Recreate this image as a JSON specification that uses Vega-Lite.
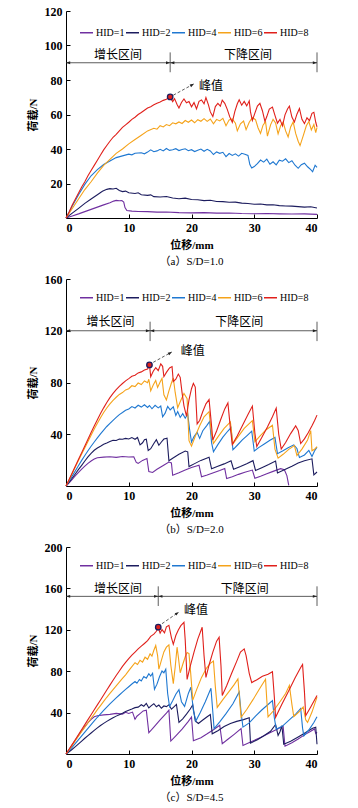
{
"$schema": "https://vega.github.io/schema/vega-lite/v6.json",
"background": "white",
"padding": {"left": 27, "top": 5, "right": 5, "bottom": 0},
"spacing": 6,
"resolve": {"scale": {"color": "independent"}},
"config": {
 "view": {"stroke": null},
 "font": "Liberation Serif, Noto Sans CJK SC",
 "axis": {"grid": false, "domainColor": "#000", "domainWidth": 1, "tickColor": "#000", "tickSize": -4, "tickWidth": 1, "labelColor": "#000", "labelFont": "Liberation Serif", "labelFontSize": 12, "labelFontWeight": "bold", "labelPadding": 8, "titleColor": "#000", "titleFont": "Liberation Serif, Noto Sans CJK SC", "titleFontSize": 11, "titleFontWeight": "bold", "titlePadding": 6},
 "legend": {"orient": "none", "direction": "horizontal", "columns": 5, "symbolType": "stroke", "symbolSize": 170, "symbolStrokeWidth": 1.5, "labelFont": "Liberation Serif", "labelFontSize": 10, "labelColor": "#000", "labelOffset": 2, "columnPadding": -3, "padding": 0, "title": null},
 "title": {"fontSize": 11, "fontWeight": "normal", "font": "Liberation Serif, Noto Sans CJK SC", "orient": "bottom", "offset": 6, "color": "#000"}
},
"datasets": {
"a": [
{"h":1,"x":0,"y":0},{"h":1,"x":1,"y":1.2},{"h":1,"x":2,"y":2.4},{"h":1,"x":3,"y":3.7},{"h":1,"x":4,"y":5},{"h":1,"x":5,"y":6.3},{"h":1,"x":6,"y":7.6},{"h":1,"x":7,"y":8.9},{"h":1,"x":7.6,"y":9.8},{"h":1,"x":8,"y":10.2},{"h":1,"x":8.5,"y":10},{"h":1,"x":8.9,"y":10.1},{"h":1,"x":9.2,"y":9.2},{"h":1,"x":9.4,"y":6},{"h":1,"x":9.7,"y":4.3},{"h":1,"x":10.5,"y":4},{"h":1,"x":11.5,"y":3.8},{"h":1,"x":13,"y":3.7},{"h":1,"x":14.5,"y":3.4},{"h":1,"x":16,"y":3.5},{"h":1,"x":18,"y":3.1},{"h":1,"x":20,"y":3},{"h":1,"x":22,"y":3.1},{"h":1,"x":24,"y":2.8},{"h":1,"x":26,"y":2.9},{"h":1,"x":28,"y":2.6},{"h":1,"x":30,"y":2.5},{"h":1,"x":32,"y":2.6},{"h":1,"x":34,"y":2.4},{"h":1,"x":36,"y":2.3},{"h":1,"x":38,"y":2.4},{"h":1,"x":40,"y":2.1},
{"h":2,"x":0,"y":0},{"h":2,"x":1,"y":2.8},{"h":2,"x":2,"y":5.6},{"h":2,"x":3,"y":8.5},{"h":2,"x":4,"y":11},{"h":2,"x":5,"y":13.5},{"h":2,"x":5.8,"y":15.5},{"h":2,"x":6.5,"y":16.6},{"h":2,"x":7,"y":17},{"h":2,"x":7.5,"y":16.8},{"h":2,"x":8,"y":17.2},{"h":2,"x":8.5,"y":16},{"h":2,"x":9,"y":15.3},{"h":2,"x":9.5,"y":15.6},{"h":2,"x":10,"y":14.6},{"h":2,"x":11,"y":14.2},{"h":2,"x":11.5,"y":14.6},{"h":2,"x":12,"y":13.5},{"h":2,"x":13,"y":13.1},{"h":2,"x":13.5,"y":13.4},{"h":2,"x":14,"y":12.4},{"h":2,"x":15,"y":12.2},{"h":2,"x":16,"y":12.5},{"h":2,"x":17,"y":11.6},{"h":2,"x":18,"y":11.2},{"h":2,"x":19,"y":11.5},{"h":2,"x":20,"y":10.7},{"h":2,"x":21,"y":10.6},{"h":2,"x":22,"y":10.1},{"h":2,"x":23,"y":10.3},{"h":2,"x":24,"y":9.6},{"h":2,"x":25,"y":9.5},{"h":2,"x":26,"y":9.1},{"h":2,"x":27,"y":9.2},{"h":2,"x":28,"y":8.6},{"h":2,"x":29,"y":8.4},{"h":2,"x":30,"y":8},{"h":2,"x":31,"y":8.1},{"h":2,"x":32,"y":7.6},{"h":2,"x":33,"y":7.7},{"h":2,"x":34,"y":7.2},{"h":2,"x":35,"y":7},{"h":2,"x":36,"y":6.9},{"h":2,"x":37,"y":6.6},{"h":2,"x":38,"y":6.3},{"h":2,"x":39,"y":6.5},{"h":2,"x":40,"y":5.8},
{"h":4,"x":0,"y":0},{"h":4,"x":1,"y":7},{"h":4,"x":2,"y":13.5},{"h":4,"x":3,"y":19.5},{"h":4,"x":4,"y":24.5},{"h":4,"x":5,"y":28},{"h":4,"x":6,"y":31},{"h":4,"x":7,"y":33},{"h":4,"x":8,"y":35},{"h":4,"x":9,"y":36},{"h":4,"x":10,"y":37},{"h":4,"x":10.5,"y":36.6},{"h":4,"x":11,"y":37.5},{"h":4,"x":12,"y":37.8},{"h":4,"x":12.5,"y":37.2},{"h":4,"x":13,"y":38.2},{"h":4,"x":13.5,"y":39.5},{"h":4,"x":14,"y":38.4},{"h":4,"x":14.5,"y":38.9},{"h":4,"x":15,"y":39.8},{"h":4,"x":15.5,"y":38.9},{"h":4,"x":16,"y":40.3},{"h":4,"x":16.5,"y":39.2},{"h":4,"x":17,"y":39.6},{"h":4,"x":17.5,"y":40.2},{"h":4,"x":18,"y":39.1},{"h":4,"x":18.5,"y":39.7},{"h":4,"x":19,"y":40.1},{"h":4,"x":19.5,"y":39},{"h":4,"x":20,"y":39.6},{"h":4,"x":20.5,"y":38.5},{"h":4,"x":21,"y":39.3},{"h":4,"x":21.5,"y":40},{"h":4,"x":22,"y":38.7},{"h":4,"x":22.5,"y":39.8},{"h":4,"x":23,"y":38.9},{"h":4,"x":23.5,"y":36.8},{"h":4,"x":24,"y":38.3},{"h":4,"x":24.5,"y":37.5},{"h":4,"x":25,"y":38.1},{"h":4,"x":25.5,"y":35.6},{"h":4,"x":26,"y":37.4},{"h":4,"x":26.5,"y":36.3},{"h":4,"x":27,"y":37.2},{"h":4,"x":27.5,"y":35.9},{"h":4,"x":28,"y":37.5},{"h":4,"x":28.5,"y":37},{"h":4,"x":29,"y":36.3},{"h":4,"x":29.3,"y":31},{"h":4,"x":29.6,"y":29},{"h":4,"x":30,"y":29.8},{"h":4,"x":30.5,"y":31.5},{"h":4,"x":31,"y":33.6},{"h":4,"x":31.5,"y":32.4},{"h":4,"x":32,"y":34.1},{"h":4,"x":32.5,"y":31.2},{"h":4,"x":33,"y":32.6},{"h":4,"x":33.5,"y":30.8},{"h":4,"x":34,"y":33.5},{"h":4,"x":34.5,"y":32.9},{"h":4,"x":35,"y":34.3},{"h":4,"x":35.5,"y":32.1},{"h":4,"x":36,"y":33.2},{"h":4,"x":36.5,"y":30.6},{"h":4,"x":37,"y":28.8},{"h":4,"x":37.5,"y":30.9},{"h":4,"x":38,"y":31.8},{"h":4,"x":38.5,"y":29.7},{"h":4,"x":39,"y":28},{"h":4,"x":39.3,"y":26.8},{"h":4,"x":39.7,"y":30.6},{"h":4,"x":40,"y":29.3},
{"h":6,"x":0,"y":0},{"h":6,"x":1,"y":5.5},{"h":6,"x":2,"y":11},{"h":6,"x":3,"y":16.5},{"h":6,"x":4,"y":21},{"h":6,"x":5,"y":26},{"h":6,"x":6,"y":30.5},{"h":6,"x":7,"y":34},{"h":6,"x":8,"y":37.5},{"h":6,"x":9,"y":40},{"h":6,"x":10,"y":43},{"h":6,"x":11,"y":45.5},{"h":6,"x":12,"y":48},{"h":6,"x":13,"y":50.5},{"h":6,"x":14,"y":52},{"h":6,"x":14.5,"y":51.5},{"h":6,"x":15,"y":53.5},{"h":6,"x":15.5,"y":52.8},{"h":6,"x":16,"y":54.2},{"h":6,"x":16.5,"y":53.5},{"h":6,"x":17,"y":55.2},{"h":6,"x":17.5,"y":54.6},{"h":6,"x":18,"y":55.7},{"h":6,"x":18.5,"y":54.8},{"h":6,"x":19,"y":56.5},{"h":6,"x":19.5,"y":55.5},{"h":6,"x":20,"y":56.8},{"h":6,"x":20.5,"y":55.2},{"h":6,"x":21,"y":57},{"h":6,"x":21.5,"y":56.1},{"h":6,"x":22,"y":57.6},{"h":6,"x":22.5,"y":56},{"h":6,"x":23,"y":57.4},{"h":6,"x":23.5,"y":54.6},{"h":6,"x":24,"y":57.2},{"h":6,"x":24.5,"y":56.3},{"h":6,"x":25,"y":57.8},{"h":6,"x":25.5,"y":53.5},{"h":6,"x":26,"y":56.9},{"h":6,"x":26.5,"y":57.4},{"h":6,"x":27,"y":55},{"h":6,"x":27.3,"y":50.5},{"h":6,"x":27.8,"y":54.6},{"h":6,"x":28.3,"y":56.2},{"h":6,"x":28.7,"y":51.2},{"h":6,"x":29.2,"y":55.5},{"h":6,"x":29.7,"y":58.2},{"h":6,"x":30.2,"y":57},{"h":6,"x":30.6,"y":52.3},{"h":6,"x":31,"y":49},{"h":6,"x":31.4,"y":53.8},{"h":6,"x":31.8,"y":55.8},{"h":6,"x":32.1,"y":47.5},{"h":6,"x":32.6,"y":54},{"h":6,"x":33,"y":57.2},{"h":6,"x":33.4,"y":55.1},{"h":6,"x":33.8,"y":48.8},{"h":6,"x":34.2,"y":53.5},{"h":6,"x":34.6,"y":55.6},{"h":6,"x":35,"y":50.5},{"h":6,"x":35.4,"y":47},{"h":6,"x":35.8,"y":52.8},{"h":6,"x":36.2,"y":55.7},{"h":6,"x":36.6,"y":49},{"h":6,"x":37,"y":44.5},{"h":6,"x":37.3,"y":42},{"h":6,"x":37.8,"y":47.6},{"h":6,"x":38.3,"y":53.5},{"h":6,"x":38.7,"y":55.9},{"h":6,"x":39.1,"y":51},{"h":6,"x":39.5,"y":54.2},{"h":6,"x":39.8,"y":49.5},{"h":6,"x":40,"y":52.5},
{"h":8,"x":0,"y":0},{"h":8,"x":0.5,"y":3.5},{"h":8,"x":1,"y":7.5},{"h":8,"x":1.5,"y":11},{"h":8,"x":2,"y":14.5},{"h":8,"x":2.5,"y":18},{"h":8,"x":3,"y":21},{"h":8,"x":3.5,"y":24.5},{"h":8,"x":4,"y":27.5},{"h":8,"x":4.5,"y":30.5},{"h":8,"x":5,"y":33.5},{"h":8,"x":5.5,"y":36.5},{"h":8,"x":6,"y":39.5},{"h":8,"x":6.5,"y":42},{"h":8,"x":7,"y":44.5},{"h":8,"x":7.5,"y":46.8},{"h":8,"x":8,"y":48.5},{"h":8,"x":8.5,"y":50.5},{"h":8,"x":9,"y":52.5},{"h":8,"x":9.5,"y":54},{"h":8,"x":10,"y":55.5},{"h":8,"x":10.5,"y":57.2},{"h":8,"x":11,"y":58.4},{"h":8,"x":11.5,"y":60},{"h":8,"x":12,"y":61.2},{"h":8,"x":12.5,"y":62.5},{"h":8,"x":13,"y":63.8},{"h":8,"x":13.5,"y":64.5},{"h":8,"x":14,"y":65.6},{"h":8,"x":14.5,"y":66.5},{"h":8,"x":15,"y":67.3},{"h":8,"x":15.5,"y":68.2},{"h":8,"x":16,"y":68.8},{"h":8,"x":16.6,"y":70.2},{"h":8,"x":17,"y":67.5},{"h":8,"x":17.3,"y":69.2},{"h":8,"x":17.7,"y":65.8},{"h":8,"x":18,"y":63.8},{"h":8,"x":18.4,"y":67},{"h":8,"x":18.8,"y":69},{"h":8,"x":19.2,"y":66.8},{"h":8,"x":19.6,"y":67.5},{"h":8,"x":20,"y":64.5},{"h":8,"x":20.4,"y":66.9},{"h":8,"x":20.8,"y":63.3},{"h":8,"x":21.2,"y":67.6},{"h":8,"x":21.6,"y":68.4},{"h":8,"x":22,"y":66.2},{"h":8,"x":22.3,"y":69.8},{"h":8,"x":22.7,"y":65.6},{"h":8,"x":23,"y":61.5},{"h":8,"x":23.4,"y":58.8},{"h":8,"x":23.8,"y":64.6},{"h":8,"x":24.2,"y":66.4},{"h":8,"x":24.6,"y":64.8},{"h":8,"x":24.9,"y":68.3},{"h":8,"x":25.3,"y":66.5},{"h":8,"x":25.7,"y":63},{"h":8,"x":26.1,"y":58.6},{"h":8,"x":26.5,"y":55.5},{"h":8,"x":26.9,"y":61.7},{"h":8,"x":27.3,"y":66.2},{"h":8,"x":27.6,"y":68.5},{"h":8,"x":28,"y":65.4},{"h":8,"x":28.4,"y":67.6},{"h":8,"x":28.8,"y":65},{"h":8,"x":29.2,"y":67.9},{"h":8,"x":29.4,"y":61.5},{"h":8,"x":29.7,"y":56.5},{"h":8,"x":30.1,"y":60.8},{"h":8,"x":30.5,"y":64.9},{"h":8,"x":30.9,"y":66.5},{"h":8,"x":31.3,"y":62.2},{"h":8,"x":31.7,"y":56},{"h":8,"x":32,"y":58.8},{"h":8,"x":32.4,"y":63.1},{"h":8,"x":32.9,"y":64.3},{"h":8,"x":33.3,"y":59.5},{"h":8,"x":33.7,"y":55},{"h":8,"x":34.1,"y":57.2},{"h":8,"x":34.5,"y":53.4},{"h":8,"x":34.9,"y":59.8},{"h":8,"x":35.3,"y":63.2},{"h":8,"x":35.6,"y":64.9},{"h":8,"x":36,"y":58.5},{"h":8,"x":36.4,"y":55.6},{"h":8,"x":36.8,"y":60.2},{"h":8,"x":37.2,"y":63.5},{"h":8,"x":37.6,"y":57.2},{"h":8,"x":38,"y":54.7},{"h":8,"x":38.4,"y":58.1},{"h":8,"x":38.8,"y":56.4},{"h":8,"x":39.2,"y":60.7},{"h":8,"x":39.5,"y":61.3},{"h":8,"x":39.8,"y":55.5},{"h":8,"x":40,"y":52.8}
],
"b": [
{"h":1,"x":0,"y":0},{"h":1,"x":0.5,"y":2.5},{"h":1,"x":1,"y":5.2},{"h":1,"x":1.5,"y":8},{"h":1,"x":2,"y":10.6},{"h":1,"x":2.5,"y":13},{"h":1,"x":3,"y":15.3},{"h":1,"x":3.5,"y":17.5},{"h":1,"x":4,"y":19.3},{"h":1,"x":4.5,"y":20.8},{"h":1,"x":5,"y":21.8},{"h":1,"x":6,"y":22.3},{"h":1,"x":7,"y":22.6},{"h":1,"x":8,"y":22.1},{"h":1,"x":9,"y":22.8},{"h":1,"x":10,"y":22.4},{"h":1,"x":10.8,"y":22.6},{"h":1,"x":11.2,"y":18.2},{"h":1,"x":11.5,"y":17.5},{"h":1,"x":12.2,"y":19.8},{"h":1,"x":12.9,"y":21.3},{"h":1,"x":13.2,"y":11.2},{"h":1,"x":13.8,"y":10.5},{"h":1,"x":14.5,"y":12.9},{"h":1,"x":15.5,"y":15.8},{"h":1,"x":16.4,"y":18.5},{"h":1,"x":16.8,"y":17.8},{"h":1,"x":17,"y":8.3},{"h":1,"x":18,"y":10.2},{"h":1,"x":19,"y":12.4},{"h":1,"x":20,"y":14.3},{"h":1,"x":21.2,"y":16},{"h":1,"x":21.6,"y":7.2},{"h":1,"x":22.5,"y":8.5},{"h":1,"x":23.5,"y":10.3},{"h":1,"x":24.5,"y":12},{"h":1,"x":25.3,"y":13.5},{"h":1,"x":25.6,"y":5.8},{"h":1,"x":26.5,"y":7.2},{"h":1,"x":27.5,"y":9},{"h":1,"x":28.5,"y":10.6},{"h":1,"x":29.7,"y":12.3},{"h":1,"x":30.1,"y":6},{"h":1,"x":31,"y":7.6},{"h":1,"x":32,"y":9.5},{"h":1,"x":33,"y":11.3},{"h":1,"x":34.2,"y":13.4},{"h":1,"x":34.8,"y":12.6},{"h":1,"x":35.2,"y":8},{"h":1,"x":35.5,"y":0.5},
{"h":2,"x":0,"y":0},{"h":2,"x":0.5,"y":3},{"h":2,"x":1,"y":6.2},{"h":2,"x":1.5,"y":9.5},{"h":2,"x":2,"y":12.8},{"h":2,"x":2.5,"y":16},{"h":2,"x":3,"y":19.3},{"h":2,"x":3.5,"y":22.5},{"h":2,"x":4,"y":25.3},{"h":2,"x":4.5,"y":27.6},{"h":2,"x":5,"y":29.4},{"h":2,"x":5.5,"y":30.8},{"h":2,"x":6,"y":32.3},{"h":2,"x":6.5,"y":33.2},{"h":2,"x":7,"y":34.3},{"h":2,"x":7.5,"y":35.4},{"h":2,"x":8,"y":35.2},{"h":2,"x":8.5,"y":36.3},{"h":2,"x":9,"y":36.1},{"h":2,"x":9.5,"y":36.8},{"h":2,"x":10,"y":36.3},{"h":2,"x":10.5,"y":37.4},{"h":2,"x":11,"y":36.1},{"h":2,"x":11.4,"y":37.5},{"h":2,"x":11.8,"y":31.8},{"h":2,"x":12.2,"y":33.4},{"h":2,"x":12.5,"y":35.8},{"h":2,"x":12.8,"y":36.2},{"h":2,"x":13.1,"y":27.4},{"h":2,"x":13.5,"y":28.8},{"h":2,"x":14,"y":32.9},{"h":2,"x":14.4,"y":35.8},{"h":2,"x":14.8,"y":31.5},{"h":2,"x":15.2,"y":34},{"h":2,"x":15.6,"y":36.3},{"h":2,"x":16.1,"y":37},{"h":2,"x":16.4,"y":19.5},{"h":2,"x":17,"y":21.5},{"h":2,"x":18,"y":24.5},{"h":2,"x":19,"y":27},{"h":2,"x":19.4,"y":26.4},{"h":2,"x":19.6,"y":15},{"h":2,"x":20.5,"y":17.3},{"h":2,"x":21.5,"y":19.8},{"h":2,"x":22.8,"y":22.3},{"h":2,"x":23.2,"y":13.3},{"h":2,"x":24.2,"y":15.2},{"h":2,"x":25.2,"y":17.1},{"h":2,"x":26.3,"y":19.5},{"h":2,"x":26.7,"y":13},{"h":2,"x":27.8,"y":15},{"h":2,"x":28.8,"y":17.2},{"h":2,"x":29.8,"y":19.6},{"h":2,"x":30.2,"y":12},{"h":2,"x":31.2,"y":14.2},{"h":2,"x":32.3,"y":16.6},{"h":2,"x":33.4,"y":19.3},{"h":2,"x":33.7,"y":10},{"h":2,"x":34.8,"y":12.5},{"h":2,"x":36,"y":15.3},{"h":2,"x":37,"y":17.8},{"h":2,"x":38,"y":19.5},{"h":2,"x":39.2,"y":21},{"h":2,"x":39.5,"y":8.6},{"h":2,"x":40,"y":10.8},
{"h":4,"x":0,"y":0},{"h":4,"x":0.5,"y":3.8},{"h":4,"x":1,"y":7.8},{"h":4,"x":1.5,"y":11.8},{"h":4,"x":2,"y":15.8},{"h":4,"x":2.5,"y":19.8},{"h":4,"x":3,"y":23.6},{"h":4,"x":3.5,"y":27.2},{"h":4,"x":4,"y":30.7},{"h":4,"x":4.5,"y":34},{"h":4,"x":5,"y":37.2},{"h":4,"x":5.5,"y":40.3},{"h":4,"x":6,"y":43.2},{"h":4,"x":6.5,"y":46},{"h":4,"x":7,"y":48.4},{"h":4,"x":7.5,"y":50.8},{"h":4,"x":8,"y":53},{"h":4,"x":8.5,"y":55.2},{"h":4,"x":9,"y":56.8},{"h":4,"x":9.5,"y":58.5},{"h":4,"x":10,"y":59.5},{"h":4,"x":10.5,"y":61.4},{"h":4,"x":11,"y":60.3},{"h":4,"x":11.5,"y":62.4},{"h":4,"x":12,"y":61},{"h":4,"x":12.5,"y":62.8},{"h":4,"x":13,"y":60.7},{"h":4,"x":13.3,"y":62.2},{"h":4,"x":13.7,"y":59.7},{"h":4,"x":14.2,"y":62.4},{"h":4,"x":14.7,"y":60.4},{"h":4,"x":15.1,"y":61.8},{"h":4,"x":15.4,"y":53.5},{"h":4,"x":15.8,"y":56.3},{"h":4,"x":16.2,"y":61.5},{"h":4,"x":16.6,"y":58.8},{"h":4,"x":17.1,"y":61.2},{"h":4,"x":17.5,"y":54.5},{"h":4,"x":17.8,"y":57.5},{"h":4,"x":18.2,"y":53},{"h":4,"x":18.6,"y":55.9},{"h":4,"x":19,"y":52.4},{"h":4,"x":19.4,"y":55.6},{"h":4,"x":19.7,"y":43.6},{"h":4,"x":20,"y":34},{"h":4,"x":20.4,"y":38.2},{"h":4,"x":20.9,"y":41.5},{"h":4,"x":21.3,"y":36.8},{"h":4,"x":21.8,"y":42.7},{"h":4,"x":22.4,"y":46.5},{"h":4,"x":22.9,"y":50},{"h":4,"x":23.2,"y":33.5},{"h":4,"x":23.5,"y":26.5},{"h":4,"x":24.2,"y":32},{"h":4,"x":25,"y":37.8},{"h":4,"x":25.8,"y":42.5},{"h":4,"x":26.3,"y":45.2},{"h":4,"x":26.6,"y":28},{"h":4,"x":27.3,"y":31.5},{"h":4,"x":28.1,"y":35.6},{"h":4,"x":28.9,"y":39.2},{"h":4,"x":29.6,"y":42.4},{"h":4,"x":30,"y":27},{"h":4,"x":30.7,"y":29.7},{"h":4,"x":31.6,"y":32.5},{"h":4,"x":32.5,"y":35.3},{"h":4,"x":33.3,"y":37.5},{"h":4,"x":33.7,"y":25},{"h":4,"x":34.5,"y":27},{"h":4,"x":35.4,"y":29.5},{"h":4,"x":36.3,"y":31.8},{"h":4,"x":36.8,"y":29},{"h":4,"x":37.2,"y":22},{"h":4,"x":38,"y":24},{"h":4,"x":38.7,"y":27.5},{"h":4,"x":39.2,"y":22.8},{"h":4,"x":39.6,"y":27},{"h":4,"x":40,"y":30},
{"h":6,"x":0,"y":0},{"h":6,"x":0.5,"y":4.8},{"h":6,"x":1,"y":9.8},{"h":6,"x":1.5,"y":14.8},{"h":6,"x":2,"y":19.8},{"h":6,"x":2.5,"y":24.8},{"h":6,"x":3,"y":29.6},{"h":6,"x":3.5,"y":34.4},{"h":6,"x":4,"y":39.2},{"h":6,"x":4.5,"y":44},{"h":6,"x":5,"y":48.5},{"h":6,"x":5.5,"y":52.8},{"h":6,"x":6,"y":56.8},{"h":6,"x":6.5,"y":60.3},{"h":6,"x":7,"y":63.5},{"h":6,"x":7.5,"y":66.2},{"h":6,"x":8,"y":68.6},{"h":6,"x":8.5,"y":70.8},{"h":6,"x":9,"y":72.2},{"h":6,"x":9.5,"y":74.3},{"h":6,"x":10,"y":75.2},{"h":6,"x":10.5,"y":77.5},{"h":6,"x":11,"y":76.8},{"h":6,"x":11.5,"y":79.6},{"h":6,"x":12,"y":78.4},{"h":6,"x":12.5,"y":81.2},{"h":6,"x":13,"y":79.8},{"h":6,"x":13.2,"y":82.5},{"h":6,"x":13.5,"y":73.5},{"h":6,"x":13.9,"y":78},{"h":6,"x":14.3,"y":81.5},{"h":6,"x":14.6,"y":76.2},{"h":6,"x":15,"y":80.3},{"h":6,"x":15.3,"y":83.2},{"h":6,"x":15.6,"y":70.5},{"h":6,"x":16,"y":66.5},{"h":6,"x":16.4,"y":73.5},{"h":6,"x":16.8,"y":79.6},{"h":6,"x":17.1,"y":83.5},{"h":6,"x":17.4,"y":72.3},{"h":6,"x":17.8,"y":60.5},{"h":6,"x":18.3,"y":66.3},{"h":6,"x":18.8,"y":71.5},{"h":6,"x":19.3,"y":67.5},{"h":6,"x":19.6,"y":35},{"h":6,"x":20,"y":30.8},{"h":6,"x":20.6,"y":38.4},{"h":6,"x":21.3,"y":46.5},{"h":6,"x":22,"y":53.5},{"h":6,"x":22.8,"y":57.5},{"h":6,"x":23.2,"y":39.6},{"h":6,"x":23.5,"y":33},{"h":6,"x":24.3,"y":38.5},{"h":6,"x":25.2,"y":44.5},{"h":6,"x":26.2,"y":49.5},{"h":6,"x":26.6,"y":32.5},{"h":6,"x":27.4,"y":38},{"h":6,"x":28.4,"y":44.5},{"h":6,"x":29.7,"y":50.5},{"h":6,"x":30.1,"y":34.2},{"h":6,"x":30.9,"y":38.6},{"h":6,"x":31.9,"y":43.5},{"h":6,"x":32.9,"y":47},{"h":6,"x":33.3,"y":28.5},{"h":6,"x":33.8,"y":21.5},{"h":6,"x":34.6,"y":24.5},{"h":6,"x":35.5,"y":28.3},{"h":6,"x":36.4,"y":31.2},{"h":6,"x":36.8,"y":23.5},{"h":6,"x":37.6,"y":28.5},{"h":6,"x":38.5,"y":35.6},{"h":6,"x":39,"y":42.8},{"h":6,"x":39.2,"y":27.2},{"h":6,"x":39.6,"y":28.4},{"h":6,"x":40,"y":30.5},
{"h":8,"x":0,"y":0},{"h":8,"x":0.5,"y":5},{"h":8,"x":1,"y":10.2},{"h":8,"x":1.5,"y":15.4},{"h":8,"x":2,"y":20.6},{"h":8,"x":2.5,"y":25.8},{"h":8,"x":3,"y":31},{"h":8,"x":3.5,"y":36.2},{"h":8,"x":4,"y":41.3},{"h":8,"x":4.5,"y":46.3},{"h":8,"x":5,"y":51.2},{"h":8,"x":5.5,"y":56},{"h":8,"x":6,"y":60.4},{"h":8,"x":6.5,"y":64.5},{"h":8,"x":7,"y":68.3},{"h":8,"x":7.5,"y":71.6},{"h":8,"x":8,"y":74.5},{"h":8,"x":8.5,"y":77},{"h":8,"x":9,"y":79.2},{"h":8,"x":9.5,"y":81.3},{"h":8,"x":10,"y":83},{"h":8,"x":10.5,"y":84.8},{"h":8,"x":11,"y":85.6},{"h":8,"x":11.5,"y":87.4},{"h":8,"x":12,"y":88.2},{"h":8,"x":12.5,"y":89.6},{"h":8,"x":13,"y":90.4},{"h":8,"x":13.3,"y":93.6},{"h":8,"x":13.5,"y":84.5},{"h":8,"x":13.9,"y":88.7},{"h":8,"x":14.3,"y":91.5},{"h":8,"x":14.7,"y":89.2},{"h":8,"x":15.1,"y":94.4},{"h":8,"x":15.4,"y":92.5},{"h":8,"x":15.6,"y":84.5},{"h":8,"x":16,"y":87.8},{"h":8,"x":16.5,"y":91.2},{"h":8,"x":16.9,"y":92.3},{"h":8,"x":17.1,"y":80.8},{"h":8,"x":17.5,"y":82.6},{"h":8,"x":17.9,"y":86.5},{"h":8,"x":18.2,"y":84},{"h":8,"x":18.5,"y":72},{"h":8,"x":18.8,"y":62},{"h":8,"x":19.2,"y":54},{"h":8,"x":19.6,"y":66.5},{"h":8,"x":20,"y":75.2},{"h":8,"x":20.3,"y":79.3},{"h":8,"x":20.6,"y":76.5},{"h":8,"x":20.9,"y":48},{"h":8,"x":21.3,"y":50.6},{"h":8,"x":21.8,"y":57.6},{"h":8,"x":22.3,"y":63.5},{"h":8,"x":22.8,"y":66.8},{"h":8,"x":23.1,"y":51.5},{"h":8,"x":23.4,"y":35.5},{"h":8,"x":24,"y":42.5},{"h":8,"x":24.7,"y":52},{"h":8,"x":25.3,"y":59.6},{"h":8,"x":25.8,"y":64.2},{"h":8,"x":26.2,"y":44.5},{"h":8,"x":26.5,"y":32},{"h":8,"x":27.3,"y":38.8},{"h":8,"x":28.2,"y":47.6},{"h":8,"x":29,"y":55.3},{"h":8,"x":29.7,"y":61.8},{"h":8,"x":30.1,"y":41},{"h":8,"x":30.4,"y":30.5},{"h":8,"x":31.2,"y":37.5},{"h":8,"x":32.1,"y":45.6},{"h":8,"x":32.9,"y":53.5},{"h":8,"x":33.5,"y":60.2},{"h":8,"x":33.9,"y":40},{"h":8,"x":34.3,"y":28.5},{"h":8,"x":35,"y":33.6},{"h":8,"x":35.8,"y":40.5},{"h":8,"x":36.6,"y":46.5},{"h":8,"x":37,"y":43},{"h":8,"x":37.4,"y":32.8},{"h":8,"x":38,"y":36.4},{"h":8,"x":38.6,"y":41.2},{"h":8,"x":39.2,"y":46.5},{"h":8,"x":39.6,"y":50.5},{"h":8,"x":40,"y":54.8}
],
"c": [
{"h":1,"x":0,"y":0},{"h":1,"x":0.5,"y":4.5},{"h":1,"x":1,"y":9},{"h":1,"x":1.5,"y":13.5},{"h":1,"x":2,"y":18},{"h":1,"x":2.5,"y":22.3},{"h":1,"x":3,"y":26.5},{"h":1,"x":3.5,"y":30.2},{"h":1,"x":4,"y":33.5},{"h":1,"x":4.5,"y":36},{"h":1,"x":5,"y":37},{"h":1,"x":6,"y":37.8},{"h":1,"x":7,"y":38.3},{"h":1,"x":8,"y":39.2},{"h":1,"x":9,"y":38.5},{"h":1,"x":9.5,"y":40.3},{"h":1,"x":10,"y":39.2},{"h":1,"x":10.6,"y":40.5},{"h":1,"x":11,"y":33.5},{"h":1,"x":11.3,"y":36.5},{"h":1,"x":11.8,"y":39},{"h":1,"x":12.3,"y":41.6},{"h":1,"x":12.8,"y":42.3},{"h":1,"x":13.2,"y":20.5},{"h":1,"x":14,"y":26},{"h":1,"x":15,"y":33},{"h":1,"x":16,"y":39.5},{"h":1,"x":16.4,"y":42.3},{"h":1,"x":16.7,"y":12.5},{"h":1,"x":17.5,"y":17.5},{"h":1,"x":18.5,"y":24},{"h":1,"x":19.5,"y":31.5},{"h":1,"x":20,"y":35.8},{"h":1,"x":20.3,"y":12.8},{"h":1,"x":21.5,"y":15.8},{"h":1,"x":22.5,"y":19.5},{"h":1,"x":23.5,"y":23.5},{"h":1,"x":24.5,"y":27.8},{"h":1,"x":24.9,"y":10},{"h":1,"x":25.8,"y":14.2},{"h":1,"x":26.8,"y":19},{"h":1,"x":27.9,"y":24.5},{"h":1,"x":28.2,"y":8.2},{"h":1,"x":29.5,"y":11.8},{"h":1,"x":31,"y":16},{"h":1,"x":32.5,"y":20.5},{"h":1,"x":33.8,"y":24.5},{"h":1,"x":34.6,"y":27},{"h":1,"x":34.9,"y":7.5},{"h":1,"x":36,"y":10.8},{"h":1,"x":37,"y":14.5},{"h":1,"x":38,"y":18.5},{"h":1,"x":39,"y":22},{"h":1,"x":39.6,"y":24.2},{"h":1,"x":39.8,"y":19.8},{"h":1,"x":40,"y":21},
{"h":2,"x":0,"y":0},{"h":2,"x":0.5,"y":2.2},{"h":2,"x":1,"y":4.6},{"h":2,"x":1.5,"y":7.2},{"h":2,"x":2,"y":9.8},{"h":2,"x":2.5,"y":12.5},{"h":2,"x":3,"y":15.2},{"h":2,"x":3.5,"y":17.8},{"h":2,"x":4,"y":20.3},{"h":2,"x":4.5,"y":22.8},{"h":2,"x":5,"y":25.2},{"h":2,"x":5.5,"y":27.5},{"h":2,"x":6,"y":29.6},{"h":2,"x":6.5,"y":31.5},{"h":2,"x":7,"y":33.3},{"h":2,"x":7.5,"y":35},{"h":2,"x":8,"y":36.6},{"h":2,"x":8.5,"y":38},{"h":2,"x":9,"y":39.4},{"h":2,"x":9.5,"y":41},{"h":2,"x":10,"y":42.3},{"h":2,"x":10.5,"y":43.5},{"h":2,"x":11,"y":44.8},{"h":2,"x":11.5,"y":45.3},{"h":2,"x":12,"y":47.6},{"h":2,"x":12.4,"y":46.2},{"h":2,"x":12.8,"y":48.8},{"h":2,"x":13.2,"y":44.5},{"h":2,"x":13.6,"y":46.8},{"h":2,"x":14,"y":48.6},{"h":2,"x":14.4,"y":45.6},{"h":2,"x":14.8,"y":47.3},{"h":2,"x":15.2,"y":44.2},{"h":2,"x":15.6,"y":46.4},{"h":2,"x":16,"y":45.8},{"h":2,"x":16.4,"y":47.5},{"h":2,"x":16.8,"y":43.3},{"h":2,"x":17.2,"y":45.6},{"h":2,"x":17.6,"y":48},{"h":2,"x":18,"y":30.5},{"h":2,"x":18.6,"y":34},{"h":2,"x":19.2,"y":38.5},{"h":2,"x":19.8,"y":43.5},{"h":2,"x":20.2,"y":47.5},{"h":2,"x":20.6,"y":32},{"h":2,"x":21.1,"y":29.5},{"h":2,"x":21.8,"y":32.8},{"h":2,"x":22.5,"y":36},{"h":2,"x":23,"y":38.2},{"h":2,"x":23.3,"y":19.5},{"h":2,"x":24.2,"y":22.5},{"h":2,"x":25.2,"y":26.5},{"h":2,"x":26.2,"y":29.5},{"h":2,"x":27.2,"y":31.5},{"h":2,"x":28.3,"y":33.2},{"h":2,"x":29.2,"y":35},{"h":2,"x":29.4,"y":10.5},{"h":2,"x":30.5,"y":13.8},{"h":2,"x":31.6,"y":17.8},{"h":2,"x":32.6,"y":22},{"h":2,"x":33.4,"y":28.5},{"h":2,"x":33.8,"y":18},{"h":2,"x":34.1,"y":21.5},{"h":2,"x":34.4,"y":27.3},{"h":2,"x":34.7,"y":9.5},{"h":2,"x":35.8,"y":12.3},{"h":2,"x":37,"y":16.5},{"h":2,"x":38.2,"y":20.7},{"h":2,"x":39.3,"y":24.8},{"h":2,"x":39.8,"y":25.8},{"h":2,"x":40,"y":9.5},
{"h":4,"x":0,"y":0},{"h":4,"x":0.5,"y":3.2},{"h":4,"x":1,"y":6.6},{"h":4,"x":1.5,"y":10.2},{"h":4,"x":2,"y":13.8},{"h":4,"x":2.5,"y":17.5},{"h":4,"x":3,"y":21.2},{"h":4,"x":3.5,"y":24.8},{"h":4,"x":4,"y":28.4},{"h":4,"x":4.5,"y":32},{"h":4,"x":5,"y":35.5},{"h":4,"x":5.5,"y":38.8},{"h":4,"x":6,"y":42.2},{"h":4,"x":6.5,"y":45.4},{"h":4,"x":7,"y":48.4},{"h":4,"x":7.5,"y":51.3},{"h":4,"x":8,"y":54.2},{"h":4,"x":8.5,"y":57},{"h":4,"x":9,"y":59.8},{"h":4,"x":9.5,"y":62.5},{"h":4,"x":10,"y":65},{"h":4,"x":10.5,"y":67.6},{"h":4,"x":11,"y":70},{"h":4,"x":11.3,"y":68.4},{"h":4,"x":11.7,"y":72},{"h":4,"x":12,"y":70.6},{"h":4,"x":12.4,"y":74.8},{"h":4,"x":12.8,"y":73.3},{"h":4,"x":13.2,"y":77.6},{"h":4,"x":13.5,"y":75.2},{"h":4,"x":13.8,"y":78},{"h":4,"x":14.1,"y":62.5},{"h":4,"x":14.5,"y":67.5},{"h":4,"x":14.9,"y":74.6},{"h":4,"x":15.3,"y":80.2},{"h":4,"x":15.6,"y":78.5},{"h":4,"x":15.9,"y":82},{"h":4,"x":16.2,"y":58.5},{"h":4,"x":16.5,"y":45.8},{"h":4,"x":17,"y":51.5},{"h":4,"x":17.5,"y":57.8},{"h":4,"x":18,"y":62.2},{"h":4,"x":18.4,"y":50.5},{"h":4,"x":18.9,"y":46},{"h":4,"x":19.5,"y":58.5},{"h":4,"x":19.9,"y":64.5},{"h":4,"x":20.3,"y":42},{"h":4,"x":20.7,"y":32},{"h":4,"x":21.4,"y":40},{"h":4,"x":22.2,"y":50.5},{"h":4,"x":23.1,"y":63.5},{"h":4,"x":23.3,"y":48},{"h":4,"x":23.6,"y":24.5},{"h":4,"x":24.5,"y":31},{"h":4,"x":25.5,"y":39},{"h":4,"x":26.6,"y":48.5},{"h":4,"x":27.6,"y":60},{"h":4,"x":27.9,"y":40},{"h":4,"x":28.2,"y":26},{"h":4,"x":29.2,"y":30},{"h":4,"x":30.2,"y":36.5},{"h":4,"x":31.2,"y":42.5},{"h":4,"x":32.2,"y":47.8},{"h":4,"x":32.9,"y":51.5},{"h":4,"x":33.2,"y":35},{"h":4,"x":33.5,"y":24},{"h":4,"x":34.5,"y":27},{"h":4,"x":35.5,"y":32.5},{"h":4,"x":36.6,"y":38.5},{"h":4,"x":37.4,"y":44},{"h":4,"x":37.7,"y":25},{"h":4,"x":37.9,"y":17.5},{"h":4,"x":38.8,"y":24},{"h":4,"x":39.5,"y":30.5},{"h":4,"x":40,"y":36},
{"h":6,"x":0,"y":0},{"h":6,"x":0.5,"y":4.2},{"h":6,"x":1,"y":8.6},{"h":6,"x":1.5,"y":13},{"h":6,"x":2,"y":17.4},{"h":6,"x":2.5,"y":21.8},{"h":6,"x":3,"y":26},{"h":6,"x":3.5,"y":30.2},{"h":6,"x":4,"y":34.5},{"h":6,"x":4.5,"y":38.6},{"h":6,"x":5,"y":42.8},{"h":6,"x":5.5,"y":46.8},{"h":6,"x":6,"y":50.8},{"h":6,"x":6.5,"y":54.8},{"h":6,"x":7,"y":58.5},{"h":6,"x":7.5,"y":62.2},{"h":6,"x":8,"y":65.8},{"h":6,"x":8.5,"y":69.5},{"h":6,"x":9,"y":73},{"h":6,"x":9.5,"y":76.5},{"h":6,"x":10,"y":80.5},{"h":6,"x":10.5,"y":84.5},{"h":6,"x":11,"y":88.2},{"h":6,"x":11.4,"y":86.5},{"h":6,"x":11.8,"y":90.6},{"h":6,"x":12.2,"y":88.8},{"h":6,"x":12.6,"y":93.5},{"h":6,"x":13,"y":91.5},{"h":6,"x":13.4,"y":96.8},{"h":6,"x":13.7,"y":94.6},{"h":6,"x":14,"y":100.2},{"h":6,"x":14.3,"y":104.8},{"h":6,"x":14.6,"y":95},{"h":6,"x":14.8,"y":82},{"h":6,"x":15.2,"y":90.5},{"h":6,"x":15.6,"y":98.6},{"h":6,"x":16,"y":103.2},{"h":6,"x":16.4,"y":105.4},{"h":6,"x":16.7,"y":86},{"h":6,"x":17.1,"y":68},{"h":6,"x":17.4,"y":84},{"h":6,"x":17.7,"y":103.2},{"h":6,"x":17.9,"y":94},{"h":6,"x":18.2,"y":78.5},{"h":6,"x":18.6,"y":86.5},{"h":6,"x":19,"y":94},{"h":6,"x":19.3,"y":98},{"h":6,"x":19.6,"y":97},{"h":6,"x":19.9,"y":76},{"h":6,"x":20.2,"y":52},{"h":6,"x":20.8,"y":62},{"h":6,"x":21.6,"y":74},{"h":6,"x":22.4,"y":83},{"h":6,"x":23,"y":87.6},{"h":6,"x":23.5,"y":89.8},{"h":6,"x":23.8,"y":65},{"h":6,"x":24.1,"y":45},{"h":6,"x":25,"y":52.5},{"h":6,"x":26,"y":60.5},{"h":6,"x":26.8,"y":67},{"h":6,"x":27.4,"y":72.5},{"h":6,"x":27.7,"y":50},{"h":6,"x":27.9,"y":35.5},{"h":6,"x":28.8,"y":43},{"h":6,"x":29.8,"y":52.5},{"h":6,"x":30.8,"y":62.5},{"h":6,"x":31.8,"y":72.3},{"h":6,"x":32,"y":52},{"h":6,"x":32.2,"y":35.8},{"h":6,"x":33.1,"y":42},{"h":6,"x":34.1,"y":50.5},{"h":6,"x":35,"y":58.5},{"h":6,"x":35.6,"y":66.3},{"h":6,"x":36,"y":48},{"h":6,"x":36.3,"y":36},{"h":6,"x":37.1,"y":40.5},{"h":6,"x":37.8,"y":45.5},{"h":6,"x":38.2,"y":33},{"h":6,"x":38.5,"y":30.5},{"h":6,"x":39.2,"y":40.5},{"h":6,"x":40,"y":55},
{"h":8,"x":0,"y":0},{"h":8,"x":0.5,"y":4.6},{"h":8,"x":1,"y":9.3},{"h":8,"x":1.5,"y":14},{"h":8,"x":2,"y":18.8},{"h":8,"x":2.5,"y":23.6},{"h":8,"x":3,"y":28.4},{"h":8,"x":3.5,"y":33.2},{"h":8,"x":4,"y":38},{"h":8,"x":4.5,"y":42.8},{"h":8,"x":5,"y":47.5},{"h":8,"x":5.5,"y":52.2},{"h":8,"x":6,"y":57},{"h":8,"x":6.5,"y":61.8},{"h":8,"x":7,"y":66.5},{"h":8,"x":7.5,"y":71.2},{"h":8,"x":8,"y":75.8},{"h":8,"x":8.5,"y":80.2},{"h":8,"x":9,"y":84.6},{"h":8,"x":9.5,"y":88.5},{"h":8,"x":10,"y":92.2},{"h":8,"x":10.5,"y":95.5},{"h":8,"x":11,"y":98.5},{"h":8,"x":11.5,"y":101.6},{"h":8,"x":12,"y":104.2},{"h":8,"x":12.5,"y":106.8},{"h":8,"x":13,"y":109.5},{"h":8,"x":13.5,"y":113.6},{"h":8,"x":14,"y":115.8},{"h":8,"x":14.4,"y":118.6},{"h":8,"x":14.7,"y":121.8},{"h":8,"x":15,"y":116.8},{"h":8,"x":15.3,"y":120.2},{"h":8,"x":15.7,"y":117},{"h":8,"x":16,"y":122.8},{"h":8,"x":16.4,"y":124.3},{"h":8,"x":16.8,"y":112.5},{"h":8,"x":17.1,"y":106},{"h":8,"x":17.5,"y":114.5},{"h":8,"x":17.9,"y":119.8},{"h":8,"x":18.3,"y":124},{"h":8,"x":18.8,"y":127.2},{"h":8,"x":19,"y":110},{"h":8,"x":19.3,"y":72},{"h":8,"x":19.8,"y":85},{"h":8,"x":20.4,"y":98.5},{"h":8,"x":21,"y":111},{"h":8,"x":21.7,"y":122.5},{"h":8,"x":22,"y":95},{"h":8,"x":22.3,"y":74},{"h":8,"x":22.8,"y":86},{"h":8,"x":23.4,"y":98.5},{"h":8,"x":24,"y":109},{"h":8,"x":24.4,"y":112.8},{"h":8,"x":24.7,"y":85},{"h":8,"x":24.9,"y":56.5},{"h":8,"x":25.6,"y":66},{"h":8,"x":26.4,"y":78},{"h":8,"x":27.2,"y":89.5},{"h":8,"x":27.8,"y":98.5},{"h":8,"x":28.4,"y":101.5},{"h":8,"x":28.7,"y":95},{"h":8,"x":29.2,"y":78},{"h":8,"x":29.6,"y":69},{"h":8,"x":30.5,"y":72},{"h":8,"x":31.3,"y":75.2},{"h":8,"x":32.2,"y":77},{"h":8,"x":32.9,"y":79.5},{"h":8,"x":33.2,"y":55},{"h":8,"x":33.4,"y":35.5},{"h":8,"x":34.4,"y":48},{"h":8,"x":35.4,"y":60},{"h":8,"x":36.5,"y":73.5},{"h":8,"x":37.4,"y":83.5},{"h":8,"x":37.7,"y":86.5},{"h":8,"x":38,"y":60},{"h":8,"x":38.2,"y":37},{"h":8,"x":39,"y":45.5},{"h":8,"x":40,"y":56.5}
]
},
"vconcat": [
{
 "width": 251, "height": 207,
 "title": {"text": "（a）S/D=1.0"},
 "encoding": {
  "x": {"field": "x", "type": "quantitative", "scale": {"domain": [0, 40], "nice": false}, "axis": {"values": [0, 10, 20, 30, 40], "title": "位移/mm"}},
  "y": {"field": "y", "type": "quantitative", "scale": {"domain": [0, 120], "nice": false}, "axis": {"values": [20, 40, 60, 80, 100, 120], "title": "荷载/N"}}
 },
 "layer": [
  {"data": {"name": "a"}, "mark": {"type": "line", "strokeWidth": 1.1},
   "encoding": {"color": {"field": "h", "type": "nominal", "scale": {"domain": [1, 2, 4, 6, 8], "range": ["#7030a0", "#1c1c5e", "#1f78d1", "#f5a31a", "#e0201b"]}, "legend": {"legendX": 13, "legendY": 14, "labelExpr": "'HID=' + datum.label"}}}},
  {"data": {"values": [{"x": 0, "y": 90, "x2": 40, "y2": 90}, {"x": 16.6, "y": 84.5, "x2": 16.6, "y2": 96}, {"x": 40, "y": 84.5, "x2": 40, "y2": 96}]},
   "mark": {"type": "rule", "color": "#333", "strokeWidth": 0.8},
   "encoding": {"x2": {"field": "x2"}, "y2": {"field": "y2"}}},
  {"data": {"values": [{"x": 17.1, "y": 71.2, "x2": 20.3, "y2": 77.6}]},
   "mark": {"type": "rule", "color": "#333", "strokeWidth": 0.8, "strokeDash": [3, 2]},
   "encoding": {"x2": {"field": "x2"}, "y2": {"field": "y2"}}},
  {"data": {"values": [{"x": 0, "y": 90, "d": "L"}, {"x": 16.6, "y": 90, "d": "R"}, {"x": 16.6, "y": 90, "d": "L"}, {"x": 40, "y": 90, "d": "R"}]},
   "mark": {"type": "point", "filled": true, "color": "#222", "size": 70, "opacity": 1},
   "encoding": {"shape": {"field": "d", "type": "nominal", "scale": {"domain": ["L", "R"], "range": ["M0,0L1,-0.35L1,0.35Z", "M0,0L-1,-0.35L-1,0.35Z"]}, "legend": null}}},
  {"data": {"values": [{"x": 20.4, "y": 77.8}]},
   "mark": {"type": "point", "filled": true, "color": "#222", "size": 70, "opacity": 1, "shape": "M0,0L-1,-0.35L-1,0.35Z", "angle": -30}},
  {"data": {"values": [{"x": 16.6, "y": 70.2}]},
   "mark": {"type": "point", "shape": "circle", "size": 30, "filled": true, "fill": "#e0201b", "stroke": "#1c1c5e", "strokeWidth": 1.3, "opacity": 1}},
  {"data": {"values": [{"x": 8.3, "y": 94.5, "t": "增长区间"}, {"x": 29, "y": 94.5, "t": "下降区间"}, {"x": 23.1, "y": 76.5, "t": "峰值"}]},
   "mark": {"type": "text", "font": "Noto Sans CJK SC", "fontSize": 12, "color": "#000", "align": "center", "baseline": "middle"},
   "encoding": {"text": {"field": "t"}}}
 ]
},
{
 "width": 251, "height": 207,
 "title": {"text": "（b）S/D=2.0"},
 "encoding": {
  "x": {"field": "x", "type": "quantitative", "scale": {"domain": [0, 40], "nice": false}, "axis": {"values": [0, 10, 20, 30, 40], "title": "位移/mm"}},
  "y": {"field": "y", "type": "quantitative", "scale": {"domain": [0, 160], "nice": false}, "axis": {"values": [40, 80, 120, 160], "title": "荷载/N"}}
 },
 "layer": [
  {"data": {"name": "b"}, "mark": {"type": "line", "strokeWidth": 1.1},
   "encoding": {"color": {"field": "h", "type": "nominal", "scale": {"domain": [1, 2, 4, 6, 8], "range": ["#7030a0", "#1c1c5e", "#1f78d1", "#f5a31a", "#e0201b"]}, "legend": {"legendX": 13, "legendY": 11, "labelExpr": "'HID=' + datum.label"}}}},
  {"data": {"values": [{"x": 0, "y": 120, "x2": 40, "y2": 120}, {"x": 13.4, "y": 112, "x2": 13.4, "y2": 127}, {"x": 40, "y": 112, "x2": 40, "y2": 127}]},
   "mark": {"type": "rule", "color": "#333", "strokeWidth": 0.8},
   "encoding": {"x2": {"field": "x2"}, "y2": {"field": "y2"}}},
  {"data": {"values": [{"x": 13.9, "y": 95.6, "x2": 16.8, "y2": 103.4}]},
   "mark": {"type": "rule", "color": "#333", "strokeWidth": 0.8, "strokeDash": [3, 2]},
   "encoding": {"x2": {"field": "x2"}, "y2": {"field": "y2"}}},
  {"data": {"values": [{"x": 0, "y": 120, "d": "L"}, {"x": 13.4, "y": 120, "d": "R"}, {"x": 13.4, "y": 120, "d": "L"}, {"x": 40, "y": 120, "d": "R"}]},
   "mark": {"type": "point", "filled": true, "color": "#222", "size": 70, "opacity": 1},
   "encoding": {"shape": {"field": "d", "type": "nominal", "scale": {"domain": ["L", "R"], "range": ["M0,0L1,-0.35L1,0.35Z", "M0,0L-1,-0.35L-1,0.35Z"]}, "legend": null}}},
  {"data": {"values": [{"x": 16.9, "y": 103.7}]},
   "mark": {"type": "point", "filled": true, "color": "#222", "size": 70, "opacity": 1, "shape": "M0,0L-1,-0.35L-1,0.35Z", "angle": -31}},
  {"data": {"values": [{"x": 13.3, "y": 93.6}]},
   "mark": {"type": "point", "shape": "circle", "size": 30, "filled": true, "fill": "#e0201b", "stroke": "#1c1c5e", "strokeWidth": 1.3, "opacity": 1}},
  {"data": {"values": [{"x": 7.1, "y": 126.7, "t": "增长区间"}, {"x": 27.6, "y": 126.7, "t": "下降区间"}, {"x": 20.2, "y": 104.4, "t": "峰值"}]},
   "mark": {"type": "text", "font": "Noto Sans CJK SC", "fontSize": 12, "color": "#000", "align": "center", "baseline": "middle"},
   "encoding": {"text": {"field": "t"}}}
 ]
},
{
 "width": 251, "height": 207,
 "title": {"text": "（c）S/D=4.5"},
 "encoding": {
  "x": {"field": "x", "type": "quantitative", "scale": {"domain": [0, 40], "nice": false}, "axis": {"values": [0, 10, 20, 30, 40], "title": "位移/mm"}},
  "y": {"field": "y", "type": "quantitative", "scale": {"domain": [0, 200], "nice": false}, "axis": {"values": [40, 80, 120, 160, 200], "title": "荷载/N"}}
 },
 "layer": [
  {"data": {"name": "c"}, "mark": {"type": "line", "strokeWidth": 1.1},
   "encoding": {"color": {"field": "h", "type": "nominal", "scale": {"domain": [1, 2, 4, 6, 8], "range": ["#7030a0", "#1c1c5e", "#1f78d1", "#f5a31a", "#e0201b"]}, "legend": {"legendX": 13, "legendY": 11, "labelExpr": "'HID=' + datum.label"}}}},
  {"data": {"values": [{"x": 0, "y": 152.3, "x2": 40, "y2": 152.3}, {"x": 14.7, "y": 143, "x2": 14.7, "y2": 162}, {"x": 40, "y": 143, "x2": 40, "y2": 162}]},
   "mark": {"type": "rule", "color": "#333", "strokeWidth": 0.8},
   "encoding": {"x2": {"field": "x2"}, "y2": {"field": "y2"}}},
  {"data": {"values": [{"x": 15.3, "y": 125.9, "x2": 17.9, "y2": 136.8}]},
   "mark": {"type": "rule", "color": "#333", "strokeWidth": 0.8, "strokeDash": [3, 2]},
   "encoding": {"x2": {"field": "x2"}, "y2": {"field": "y2"}}},
  {"data": {"values": [{"x": 0, "y": 152.3, "d": "L"}, {"x": 14.7, "y": 152.3, "d": "R"}, {"x": 14.7, "y": 152.3, "d": "L"}, {"x": 40, "y": 152.3, "d": "R"}]},
   "mark": {"type": "point", "filled": true, "color": "#222", "size": 70, "opacity": 1},
   "encoding": {"shape": {"field": "d", "type": "nominal", "scale": {"domain": ["L", "R"], "range": ["M0,0L1,-0.35L1,0.35Z", "M0,0L-1,-0.35L-1,0.35Z"]}, "legend": null}}},
  {"data": {"values": [{"x": 18, "y": 137.2}]},
   "mark": {"type": "point", "filled": true, "color": "#222", "size": 70, "opacity": 1, "shape": "M0,0L-1,-0.35L-1,0.35Z", "angle": -35}},
  {"data": {"values": [{"x": 14.7, "y": 122.5}]},
   "mark": {"type": "point", "shape": "circle", "size": 30, "filled": true, "fill": "#e0201b", "stroke": "#1c1c5e", "strokeWidth": 1.3, "opacity": 1}},
  {"data": {"values": [{"x": 8.3, "y": 159.6, "t": "增长区间"}, {"x": 28.5, "y": 159.6, "t": "下降区间"}, {"x": 20.7, "y": 139.6, "t": "峰值"}]},
   "mark": {"type": "text", "font": "Noto Sans CJK SC", "fontSize": 12, "color": "#000", "align": "center", "baseline": "middle"},
   "encoding": {"text": {"field": "t"}}}
 ]
}
]
}
